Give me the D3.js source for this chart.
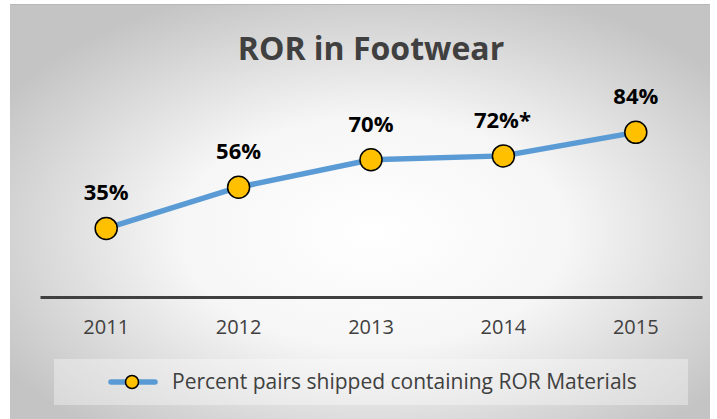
<!DOCTYPE html>
<html lang="en">
<head>
    <meta charset="UTF-8">
    <title>ROR in Footwear</title>
    <script src="https://cdn.jsdelivr.net/npm/d3@7/dist/d3.min.js"></script>
    <style>
        body { margin: 0; background: #ffffff; }
        svg text { font-family: "Open Sans", "Liberation Sans", sans-serif; }
    </style>
</head>
<body>
    <div id="chart"></div>
    <script>
        // data
        var years = ["2011", "2012", "2013", "2014", "2015"];
        var percents = [35, 56, 70, 72, 84];
        var labels = ["35%", "56%", "70%", "72%*", "84%"];
        var seriesName = "Percent pairs shipped containing ROR Materials";

        var width = 717, height = 419;

        var svg = d3.select("#chart").append("svg")
            .attr("width", width)
            .attr("height", height);

        // background with soft radial shading
        var grad = svg.append("defs").append("radialGradient")
            .attr("id", "bg")
            .attr("cx", "52%").attr("cy", "55%").attr("r", "62%");
        grad.append("stop").attr("offset", "0%").attr("stop-color", "#ffffff");
        grad.append("stop").attr("offset", "45%").attr("stop-color", "#f6f6f6");
        grad.append("stop").attr("offset", "100%").attr("stop-color", "#c4c4c4");

        svg.append("rect")
            .attr("x", 10).attr("y", 4)
            .attr("width", 700).attr("height", 415)
            .attr("fill", "url(#bg)");
        svg.append("line")
            .attr("x1", 10).attr("x2", 710).attr("y1", 4.5).attr("y2", 4.5)
            .attr("stroke", "#b8b8b8").attr("stroke-width", 1);

        // scales
        var x = d3.scaleBand().domain(years).range([40, 702]);
        var y = d3.scaleLinear().domain([0, 100]).range([297, 101]);

        // title
        svg.append("text")
            .attr("x", 371).attr("y", 60)
            .attr("text-anchor", "middle")
            .attr("font-size", 32)
            .attr("font-weight", "bold")
            .attr("fill", "#404040")
            .text("ROR in Footwear");

        // category axis
        var xAxis = svg.append("g")
            .attr("transform", "translate(0," + y(0) + ")")
            .call(d3.axisBottom(x).tickSize(0).tickPadding(23));
        xAxis.select(".domain").attr("stroke", "#404040").attr("stroke-width", 3);
        xAxis.selectAll("text")
            .attr("font-size", 20)
            .attr("fill", "#404040")
            .style("font-family", "'Open Sans', sans-serif");

        var cx = function(d, i) { return x(years[i]) + x.bandwidth() / 2; };

        // line
        var line = d3.line()
            .x(function(d, i) { return cx(d, i); })
            .y(function(d) { return y(d); });
        svg.append("path")
            .datum(percents)
            .attr("d", line)
            .attr("fill", "none")
            .attr("stroke", "#5b9bd5")
            .attr("stroke-width", 5.5)
            .attr("stroke-linecap", "round");

        // markers
        svg.selectAll("circle.pt")
            .data(percents)
            .enter()
            .append("circle")
            .attr("class", "pt")
            .attr("cx", cx)
            .attr("cy", function(d) { return y(d); })
            .attr("r", 11)
            .attr("fill", "#ffc000")
            .attr("stroke", "#000000")
            .attr("stroke-width", 1.5);

        // data labels
        svg.selectAll("text.lbl")
            .data(percents)
            .enter()
            .append("text")
            .attr("class", "lbl")
            .attr("x", function(d, i) { return cx(d, i) - (i === 3 ? 1 : 0); })
            .attr("y", function(d) { return y(d) - 28; })
            .attr("text-anchor", "middle")
            .attr("font-size", 22)
            .attr("font-weight", "bold")
            .attr("fill", "#000000")
            .text(function(d, i) { return labels[i]; });

        // legend
        var legend = svg.append("g");
        legend.append("rect")
            .attr("x", 54).attr("y", 359)
            .attr("width", 634).attr("height", 46)
            .attr("fill", "#ffffff").attr("fill-opacity", 0.35);
        legend.append("line")
            .attr("x1", 111).attr("x2", 155).attr("y1", 382).attr("y2", 382)
            .attr("stroke", "#5b9bd5").attr("stroke-width", 5.5)
            .attr("stroke-linecap", "round");
        legend.append("circle")
            .attr("cx", 132).attr("cy", 382).attr("r", 6.5)
            .attr("fill", "#ffc000").attr("stroke", "#000000").attr("stroke-width", 1.5);
        legend.append("text")
            .attr("x", 172).attr("y", 389)
            .attr("font-size", 21)
            .attr("fill", "#404040")
            .text(seriesName);
    </script>
</body>
</html>
